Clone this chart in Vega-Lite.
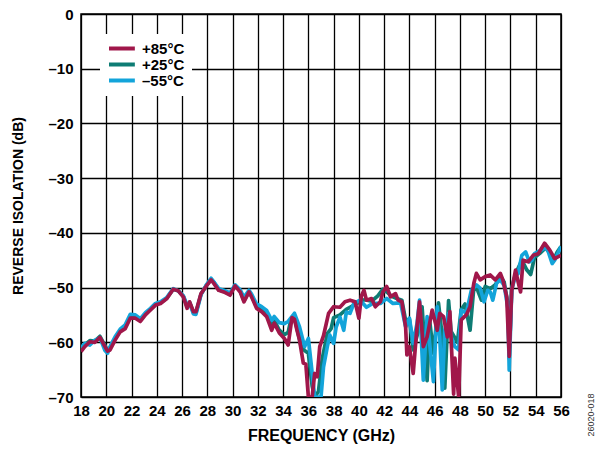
{
  "$schema": "https://vega.github.io/schema/vega-lite/v6.json",
  "width": 480,
  "height": 383,
  "autosize": {"type": "none"},
  "padding": {"left": 81, "top": 14, "right": 36, "bottom": 52},
  "background": "white",
  "config": {
    "font": "Liberation Sans",
    "view": {"stroke": "black", "strokeWidth": 1.5},
    "axis": {
      "labelFont": "Liberation Sans", "labelFontWeight": "bold", "labelFontSize": 15, "labelColor": "black",
      "titleFont": "Liberation Sans", "titleFontWeight": "bold", "titleColor": "black",
      "grid": true, "gridColor": "black", "gridWidth": 1.3, "gridOpacity": 1,
      "domain": false, "ticks": false
    },
    "legend": {"labelFont": "Liberation Sans", "rowPadding": -3}
  },
  "data": {"values": [
    {"f":18.0,"d":-61.7,"s":"+85°C"},{"f":18.3,"d":-60.8,"s":"+85°C"},{"f":18.7,"d":-59.9,"s":"+85°C"},{"f":19.1,"d":-60.0,"s":"+85°C"},{"f":19.5,"d":-59.1,"s":"+85°C"},{"f":19.9,"d":-60.8,"s":"+85°C"},{"f":20.1,"d":-61.6,"s":"+85°C"},{"f":20.3,"d":-61.4,"s":"+85°C"},{"f":20.7,"d":-59.6,"s":"+85°C"},{"f":21.1,"d":-58.1,"s":"+85°C"},{"f":21.5,"d":-57.5,"s":"+85°C"},{"f":21.9,"d":-55.6,"s":"+85°C"},{"f":22.3,"d":-55.6,"s":"+85°C"},{"f":22.7,"d":-56.2,"s":"+85°C"},{"f":23.1,"d":-55.0,"s":"+85°C"},{"f":23.5,"d":-54.1,"s":"+85°C"},{"f":23.9,"d":-53.2,"s":"+85°C"},{"f":24.3,"d":-52.9,"s":"+85°C"},{"f":24.8,"d":-52.0,"s":"+85°C"},{"f":25.3,"d":-50.3,"s":"+85°C"},{"f":25.7,"d":-50.6,"s":"+85°C"},{"f":26.1,"d":-51.7,"s":"+85°C"},{"f":26.4,"d":-53.8,"s":"+85°C"},{"f":26.6,"d":-52.6,"s":"+85°C"},{"f":26.9,"d":-54.4,"s":"+85°C"},{"f":27.1,"d":-54.4,"s":"+85°C"},{"f":27.5,"d":-51.1,"s":"+85°C"},{"f":27.9,"d":-49.8,"s":"+85°C"},{"f":28.3,"d":-48.6,"s":"+85°C"},{"f":28.5,"d":-49.2,"s":"+85°C"},{"f":28.9,"d":-50.5,"s":"+85°C"},{"f":29.3,"d":-50.8,"s":"+85°C"},{"f":29.8,"d":-51.4,"s":"+85°C"},{"f":30.2,"d":-49.7,"s":"+85°C"},{"f":30.6,"d":-50.8,"s":"+85°C"},{"f":30.9,"d":-52.6,"s":"+85°C"},{"f":31.3,"d":-50.8,"s":"+85°C"},{"f":31.5,"d":-51.7,"s":"+85°C"},{"f":31.9,"d":-53.8,"s":"+85°C"},{"f":32.3,"d":-54.4,"s":"+85°C"},{"f":32.7,"d":-55.3,"s":"+85°C"},{"f":33.1,"d":-57.8,"s":"+85°C"},{"f":33.3,"d":-56.5,"s":"+85°C"},{"f":33.7,"d":-58.3,"s":"+85°C"},{"f":34.1,"d":-59.3,"s":"+85°C"},{"f":34.4,"d":-60.5,"s":"+85°C"},{"f":34.7,"d":-55.5,"s":"+85°C"},{"f":34.9,"d":-55.8,"s":"+85°C"},{"f":35.1,"d":-57.8,"s":"+85°C"},{"f":35.3,"d":-59.6,"s":"+85°C"},{"f":35.6,"d":-63.8,"s":"+85°C"},{"f":35.8,"d":-64.0,"s":"+85°C"},{"f":36.0,"d":-70.0,"s":"+85°C"},{"f":36.3,"d":-70.0,"s":"+85°C"},{"f":36.5,"d":-65.7,"s":"+85°C"},{"f":36.7,"d":-66.3,"s":"+85°C"},{"f":36.9,"d":-60.8,"s":"+85°C"},{"f":37.2,"d":-58.8,"s":"+85°C"},{"f":37.6,"d":-54.7,"s":"+85°C"},{"f":38.0,"d":-53.5,"s":"+85°C"},{"f":38.5,"d":-53.6,"s":"+85°C"},{"f":38.9,"d":-52.6,"s":"+85°C"},{"f":39.3,"d":-52.3,"s":"+85°C"},{"f":39.7,"d":-52.6,"s":"+85°C"},{"f":40.0,"d":-55.6,"s":"+85°C"},{"f":40.2,"d":-51.5,"s":"+85°C"},{"f":40.4,"d":-50.5,"s":"+85°C"},{"f":40.6,"d":-52.3,"s":"+85°C"},{"f":41.0,"d":-52.0,"s":"+85°C"},{"f":41.3,"d":-53.5,"s":"+85°C"},{"f":41.7,"d":-52.6,"s":"+85°C"},{"f":41.9,"d":-50.8,"s":"+85°C"},{"f":42.2,"d":-49.8,"s":"+85°C"},{"f":42.5,"d":-51.7,"s":"+85°C"},{"f":42.9,"d":-51.1,"s":"+85°C"},{"f":43.1,"d":-52.3,"s":"+85°C"},{"f":43.4,"d":-52.6,"s":"+85°C"},{"f":43.7,"d":-57.2,"s":"+85°C"},{"f":43.8,"d":-62.3,"s":"+85°C"},{"f":44.0,"d":-60.8,"s":"+85°C"},{"f":44.3,"d":-65.7,"s":"+85°C"},{"f":44.6,"d":-57.2,"s":"+85°C"},{"f":44.8,"d":-52.6,"s":"+85°C"},{"f":45.1,"d":-60.8,"s":"+85°C"},{"f":45.4,"d":-59.0,"s":"+85°C"},{"f":45.8,"d":-54.1,"s":"+85°C"},{"f":46.2,"d":-57.8,"s":"+85°C"},{"f":46.4,"d":-54.7,"s":"+85°C"},{"f":46.7,"d":-55.3,"s":"+85°C"},{"f":47.0,"d":-59.0,"s":"+85°C"},{"f":47.2,"d":-54.4,"s":"+85°C"},{"f":47.5,"d":-69.5,"s":"+85°C"},{"f":47.6,"d":-62.9,"s":"+85°C"},{"f":47.9,"d":-70.0,"s":"+85°C"},{"f":48.1,"d":-55.9,"s":"+85°C"},{"f":48.5,"d":-55.0,"s":"+85°C"},{"f":48.8,"d":-53.5,"s":"+85°C"},{"f":49.1,"d":-49.2,"s":"+85°C"},{"f":49.3,"d":-47.4,"s":"+85°C"},{"f":49.6,"d":-48.6,"s":"+85°C"},{"f":50.0,"d":-48.0,"s":"+85°C"},{"f":50.4,"d":-47.7,"s":"+85°C"},{"f":50.8,"d":-48.6,"s":"+85°C"},{"f":51.2,"d":-47.4,"s":"+85°C"},{"f":51.4,"d":-48.6,"s":"+85°C"},{"f":51.7,"d":-51.7,"s":"+85°C"},{"f":51.9,"d":-62.6,"s":"+85°C"},{"f":52.1,"d":-50.5,"s":"+85°C"},{"f":52.4,"d":-46.8,"s":"+85°C"},{"f":52.6,"d":-48.9,"s":"+85°C"},{"f":52.8,"d":-50.8,"s":"+85°C"},{"f":53.0,"d":-45.0,"s":"+85°C"},{"f":53.4,"d":-45.3,"s":"+85°C"},{"f":53.8,"d":-44.1,"s":"+85°C"},{"f":54.2,"d":-43.8,"s":"+85°C"},{"f":54.7,"d":-41.9,"s":"+85°C"},{"f":55.1,"d":-43.1,"s":"+85°C"},{"f":55.5,"d":-44.7,"s":"+85°C"},{"f":56.0,"d":-44.1,"s":"+85°C"},

    {"f":18.0,"d":-61.3,"s":"+25°C"},{"f":18.3,"d":-60.5,"s":"+25°C"},{"f":18.7,"d":-59.7,"s":"+25°C"},{"f":19.1,"d":-59.8,"s":"+25°C"},{"f":19.5,"d":-58.9,"s":"+25°C"},{"f":19.9,"d":-60.6,"s":"+25°C"},{"f":20.1,"d":-61.5,"s":"+25°C"},{"f":20.3,"d":-61.0,"s":"+25°C"},{"f":20.7,"d":-59.3,"s":"+25°C"},{"f":21.1,"d":-57.9,"s":"+25°C"},{"f":21.5,"d":-57.2,"s":"+25°C"},{"f":21.9,"d":-55.4,"s":"+25°C"},{"f":22.3,"d":-55.4,"s":"+25°C"},{"f":22.7,"d":-56.0,"s":"+25°C"},{"f":23.1,"d":-54.8,"s":"+25°C"},{"f":23.5,"d":-54.0,"s":"+25°C"},{"f":23.9,"d":-53.1,"s":"+25°C"},{"f":24.3,"d":-52.8,"s":"+25°C"},{"f":24.8,"d":-51.9,"s":"+25°C"},{"f":25.3,"d":-50.3,"s":"+25°C"},{"f":25.7,"d":-50.6,"s":"+25°C"},{"f":26.1,"d":-51.6,"s":"+25°C"},{"f":26.4,"d":-53.5,"s":"+25°C"},{"f":26.6,"d":-52.7,"s":"+25°C"},{"f":26.9,"d":-54.6,"s":"+25°C"},{"f":27.1,"d":-54.6,"s":"+25°C"},{"f":27.5,"d":-51.2,"s":"+25°C"},{"f":27.9,"d":-49.7,"s":"+25°C"},{"f":28.3,"d":-48.5,"s":"+25°C"},{"f":28.5,"d":-49.0,"s":"+25°C"},{"f":28.9,"d":-50.4,"s":"+25°C"},{"f":29.3,"d":-50.7,"s":"+25°C"},{"f":29.8,"d":-51.2,"s":"+25°C"},{"f":30.2,"d":-49.6,"s":"+25°C"},{"f":30.6,"d":-50.6,"s":"+25°C"},{"f":30.9,"d":-52.4,"s":"+25°C"},{"f":31.3,"d":-50.7,"s":"+25°C"},{"f":31.5,"d":-51.5,"s":"+25°C"},{"f":31.9,"d":-53.5,"s":"+25°C"},{"f":32.3,"d":-54.0,"s":"+25°C"},{"f":32.7,"d":-54.9,"s":"+25°C"},{"f":33.1,"d":-57.0,"s":"+25°C"},{"f":33.3,"d":-56.0,"s":"+25°C"},{"f":33.7,"d":-57.8,"s":"+25°C"},{"f":34.1,"d":-58.6,"s":"+25°C"},{"f":34.4,"d":-58.2,"s":"+25°C"},{"f":34.6,"d":-56.0,"s":"+25°C"},{"f":34.9,"d":-55.6,"s":"+25°C"},{"f":35.1,"d":-57.5,"s":"+25°C"},{"f":35.4,"d":-60.5,"s":"+25°C"},{"f":35.7,"d":-61.5,"s":"+25°C"},{"f":36.0,"d":-62.0,"s":"+25°C"},{"f":36.3,"d":-68.0,"s":"+25°C"},{"f":36.5,"d":-70.0,"s":"+25°C"},{"f":36.8,"d":-69.0,"s":"+25°C"},{"f":37.1,"d":-63.0,"s":"+25°C"},{"f":37.5,"d":-58.4,"s":"+25°C"},{"f":37.8,"d":-57.5,"s":"+25°C"},{"f":38.0,"d":-55.5,"s":"+25°C"},{"f":38.5,"d":-55.0,"s":"+25°C"},{"f":39.0,"d":-54.0,"s":"+25°C"},{"f":39.4,"d":-53.5,"s":"+25°C"},{"f":39.8,"d":-53.0,"s":"+25°C"},{"f":40.1,"d":-52.5,"s":"+25°C"},{"f":40.5,"d":-52.2,"s":"+25°C"},{"f":41.0,"d":-52.5,"s":"+25°C"},{"f":41.5,"d":-51.5,"s":"+25°C"},{"f":41.9,"d":-50.3,"s":"+25°C"},{"f":42.2,"d":-50.8,"s":"+25°C"},{"f":42.6,"d":-51.6,"s":"+25°C"},{"f":43.0,"d":-52.0,"s":"+25°C"},{"f":43.4,"d":-52.3,"s":"+25°C"},{"f":43.7,"d":-56.0,"s":"+25°C"},{"f":44.0,"d":-55.8,"s":"+25°C"},{"f":44.3,"d":-61.4,"s":"+25°C"},{"f":44.7,"d":-58.0,"s":"+25°C"},{"f":45.0,"d":-53.5,"s":"+25°C"},{"f":45.4,"d":-67.0,"s":"+25°C"},{"f":45.6,"d":-56.0,"s":"+25°C"},{"f":45.9,"d":-62.0,"s":"+25°C"},{"f":46.3,"d":-52.8,"s":"+25°C"},{"f":46.6,"d":-59.0,"s":"+25°C"},{"f":46.8,"d":-68.4,"s":"+25°C"},{"f":47.1,"d":-52.4,"s":"+25°C"},{"f":47.3,"d":-58.0,"s":"+25°C"},{"f":47.8,"d":-60.0,"s":"+25°C"},{"f":48.1,"d":-54.0,"s":"+25°C"},{"f":48.4,"d":-53.0,"s":"+25°C"},{"f":48.8,"d":-57.8,"s":"+25°C"},{"f":49.1,"d":-50.0,"s":"+25°C"},{"f":49.4,"d":-50.5,"s":"+25°C"},{"f":49.7,"d":-52.3,"s":"+25°C"},{"f":50.0,"d":-49.8,"s":"+25°C"},{"f":50.4,"d":-50.2,"s":"+25°C"},{"f":50.8,"d":-49.5,"s":"+25°C"},{"f":51.2,"d":-48.0,"s":"+25°C"},{"f":51.5,"d":-49.0,"s":"+25°C"},{"f":51.8,"d":-53.0,"s":"+25°C"},{"f":51.9,"d":-63.0,"s":"+25°C"},{"f":52.1,"d":-50.0,"s":"+25°C"},{"f":52.4,"d":-47.5,"s":"+25°C"},{"f":52.9,"d":-45.0,"s":"+25°C"},{"f":53.3,"d":-46.8,"s":"+25°C"},{"f":53.6,"d":-47.6,"s":"+25°C"},{"f":53.9,"d":-44.5,"s":"+25°C"},{"f":54.3,"d":-43.8,"s":"+25°C"},{"f":54.8,"d":-42.7,"s":"+25°C"},{"f":55.1,"d":-43.5,"s":"+25°C"},{"f":55.4,"d":-45.0,"s":"+25°C"},{"f":55.7,"d":-43.5,"s":"+25°C"},{"f":56.0,"d":-42.5,"s":"+25°C"},

    {"f":18.0,"d":-61.0,"s":"–55°C"},{"f":18.3,"d":-60.2,"s":"–55°C"},{"f":18.7,"d":-60.5,"s":"–55°C"},{"f":19.1,"d":-59.6,"s":"–55°C"},{"f":19.5,"d":-59.2,"s":"–55°C"},{"f":19.9,"d":-61.5,"s":"–55°C"},{"f":20.1,"d":-62.0,"s":"–55°C"},{"f":20.3,"d":-60.8,"s":"–55°C"},{"f":20.7,"d":-59.0,"s":"–55°C"},{"f":21.1,"d":-57.6,"s":"–55°C"},{"f":21.5,"d":-56.8,"s":"–55°C"},{"f":21.9,"d":-54.9,"s":"–55°C"},{"f":22.3,"d":-55.0,"s":"–55°C"},{"f":22.7,"d":-55.7,"s":"–55°C"},{"f":23.1,"d":-54.6,"s":"–55°C"},{"f":23.5,"d":-53.8,"s":"–55°C"},{"f":23.9,"d":-52.9,"s":"–55°C"},{"f":24.3,"d":-52.6,"s":"–55°C"},{"f":24.8,"d":-51.8,"s":"–55°C"},{"f":25.3,"d":-50.2,"s":"–55°C"},{"f":25.7,"d":-50.6,"s":"–55°C"},{"f":26.1,"d":-51.5,"s":"–55°C"},{"f":26.4,"d":-53.2,"s":"–55°C"},{"f":26.6,"d":-52.8,"s":"–55°C"},{"f":26.9,"d":-54.8,"s":"–55°C"},{"f":27.1,"d":-54.9,"s":"–55°C"},{"f":27.5,"d":-51.3,"s":"–55°C"},{"f":27.9,"d":-49.6,"s":"–55°C"},{"f":28.3,"d":-48.3,"s":"–55°C"},{"f":28.5,"d":-48.9,"s":"–55°C"},{"f":28.9,"d":-50.2,"s":"–55°C"},{"f":29.3,"d":-50.5,"s":"–55°C"},{"f":29.8,"d":-51.0,"s":"–55°C"},{"f":30.2,"d":-49.5,"s":"–55°C"},{"f":30.6,"d":-50.4,"s":"–55°C"},{"f":30.9,"d":-51.8,"s":"–55°C"},{"f":31.3,"d":-50.5,"s":"–55°C"},{"f":31.5,"d":-51.2,"s":"–55°C"},{"f":31.9,"d":-53.0,"s":"–55°C"},{"f":32.3,"d":-53.5,"s":"–55°C"},{"f":32.7,"d":-54.2,"s":"–55°C"},{"f":33.1,"d":-56.0,"s":"–55°C"},{"f":33.3,"d":-55.3,"s":"–55°C"},{"f":33.7,"d":-56.4,"s":"–55°C"},{"f":34.1,"d":-56.6,"s":"–55°C"},{"f":34.4,"d":-56.2,"s":"–55°C"},{"f":34.9,"d":-54.7,"s":"–55°C"},{"f":35.3,"d":-57.2,"s":"–55°C"},{"f":35.7,"d":-60.8,"s":"–55°C"},{"f":36.0,"d":-59.3,"s":"–55°C"},{"f":36.3,"d":-65.6,"s":"–55°C"},{"f":36.5,"d":-70.0,"s":"–55°C"},{"f":37.0,"d":-70.0,"s":"–55°C"},{"f":37.2,"d":-64.5,"s":"–55°C"},{"f":37.5,"d":-60.8,"s":"–55°C"},{"f":37.7,"d":-58.7,"s":"–55°C"},{"f":38.0,"d":-60.2,"s":"–55°C"},{"f":38.2,"d":-57.2,"s":"–55°C"},{"f":38.5,"d":-55.4,"s":"–55°C"},{"f":38.8,"d":-57.8,"s":"–55°C"},{"f":39.0,"d":-54.5,"s":"–55°C"},{"f":39.3,"d":-54.7,"s":"–55°C"},{"f":39.6,"d":-52.9,"s":"–55°C"},{"f":40.1,"d":-52.3,"s":"–55°C"},{"f":40.6,"d":-53.6,"s":"–55°C"},{"f":41.1,"d":-52.9,"s":"–55°C"},{"f":41.7,"d":-52.9,"s":"–55°C"},{"f":42.2,"d":-52.0,"s":"–55°C"},{"f":42.7,"d":-52.9,"s":"–55°C"},{"f":43.3,"d":-52.8,"s":"–55°C"},{"f":43.7,"d":-57.2,"s":"–55°C"},{"f":44.0,"d":-55.6,"s":"–55°C"},{"f":44.3,"d":-60.2,"s":"–55°C"},{"f":44.6,"d":-56.6,"s":"–55°C"},{"f":44.8,"d":-52.3,"s":"–55°C"},{"f":45.1,"d":-66.9,"s":"–55°C"},{"f":45.4,"d":-55.3,"s":"–55°C"},{"f":45.6,"d":-60.2,"s":"–55°C"},{"f":45.9,"d":-67.2,"s":"–55°C"},{"f":46.2,"d":-53.5,"s":"–55°C"},{"f":46.4,"d":-59.0,"s":"–55°C"},{"f":46.6,"d":-68.7,"s":"–55°C"},{"f":46.8,"d":-57.8,"s":"–55°C"},{"f":47.1,"d":-54.7,"s":"–55°C"},{"f":47.3,"d":-59.0,"s":"–55°C"},{"f":47.6,"d":-60.8,"s":"–55°C"},{"f":47.9,"d":-61.4,"s":"–55°C"},{"f":48.1,"d":-54.1,"s":"–55°C"},{"f":48.5,"d":-54.7,"s":"–55°C"},{"f":48.9,"d":-50.5,"s":"–55°C"},{"f":49.3,"d":-49.5,"s":"–55°C"},{"f":49.6,"d":-50.1,"s":"–55°C"},{"f":49.9,"d":-52.6,"s":"–55°C"},{"f":50.2,"d":-50.5,"s":"–55°C"},{"f":50.4,"d":-50.8,"s":"–55°C"},{"f":50.6,"d":-52.3,"s":"–55°C"},{"f":50.9,"d":-49.2,"s":"–55°C"},{"f":51.2,"d":-48.6,"s":"–55°C"},{"f":51.5,"d":-49.6,"s":"–55°C"},{"f":51.8,"d":-53.8,"s":"–55°C"},{"f":51.9,"d":-65.1,"s":"–55°C"},{"f":52.1,"d":-50.4,"s":"–55°C"},{"f":52.4,"d":-47.7,"s":"–55°C"},{"f":52.6,"d":-47.5,"s":"–55°C"},{"f":52.9,"d":-44.1,"s":"–55°C"},{"f":53.2,"d":-43.5,"s":"–55°C"},{"f":53.5,"d":-45.3,"s":"–55°C"},{"f":53.7,"d":-45.0,"s":"–55°C"},{"f":53.9,"d":-43.8,"s":"–55°C"},{"f":54.3,"d":-43.3,"s":"–55°C"},{"f":54.8,"d":-42.7,"s":"–55°C"},{"f":55.0,"d":-43.5,"s":"–55°C"},{"f":55.3,"d":-45.6,"s":"–55°C"},{"f":55.5,"d":-45.0,"s":"–55°C"},{"f":56.0,"d":-42.5,"s":"–55°C"}
  ]},
  "encoding": {
    "x": {"field": "f", "type": "quantitative",
      "scale": {"domain": [18, 56], "nice": false, "zero": false},
      "axis": {"title": "FREQUENCY (GHz)", "titleFontSize": 16, "values": [18,20,22,24,26,28,30,32,34,36,38,40,42,44,46,48,50,52,54,56], "labelPadding": 6, "titlePadding": 9, "labelFlush": false}},
    "y": {"field": "d", "type": "quantitative",
      "scale": {"domain": [-70, 0], "nice": false, "zero": false},
      "axis": {"title": "REVERSE ISOLATION (dB)", "titleFontSize": 14, "values": [-70,-60,-50,-40,-30,-20,-10,0], "labelPadding": 8, "titlePadding": 22, "labelFlush": false, "labelExpr": "replace(datum.label, '−', '–')"}}
  },
  "layer": [
    {
      "transform": [{"filter": "datum.s === '+25°C'"}],
      "mark": {"type": "line", "strokeWidth": 3.7, "clip": true, "strokeJoin": "round"},
      "encoding": {"color": {"field": "s", "type": "nominal",
        "scale": {"domain": ["+85°C", "+25°C", "–55°C"], "range": ["#A0174A", "#0E7C74", "#13A4DA"]},
        "legend": {"title": null, "orient": "none", "legendX": 19, "legendY": 20, "symbolType": "M-1,0H3.7", "symbolStrokeWidth": 4, "symbolSize": 121, "symbolFillColor": "transparent", "labelFontSize": 15, "labelFontWeight": "bold", "labelColor": "black", "fillColor": "white", "padding": 7, "rowPadding": -3, "labelOffset": 20}}}
    },
    {
      "transform": [{"filter": "datum.s === '–55°C'"}],
      "mark": {"type": "line", "strokeWidth": 3.7, "clip": true, "strokeJoin": "round"},
      "encoding": {"color": {"field": "s", "type": "nominal"}}
    },
    {
      "transform": [{"filter": "datum.s === '+85°C'"}],
      "mark": {"type": "line", "strokeWidth": 3.7, "clip": true, "strokeJoin": "round"},
      "encoding": {"color": {"field": "s", "type": "nominal"}}
    },
    {
      "data": {"values": [{"f": 56, "d": -70, "t": "26020-018"}]},
      "mark": {"type": "text", "angle": 270, "align": "center", "baseline": "middle", "dx": -18, "dy": 30, "fontSize": 9, "color": "#333333", "font": "Liberation Sans"},
      "encoding": {"text": {"field": "t"}}
    }
  ]
}
